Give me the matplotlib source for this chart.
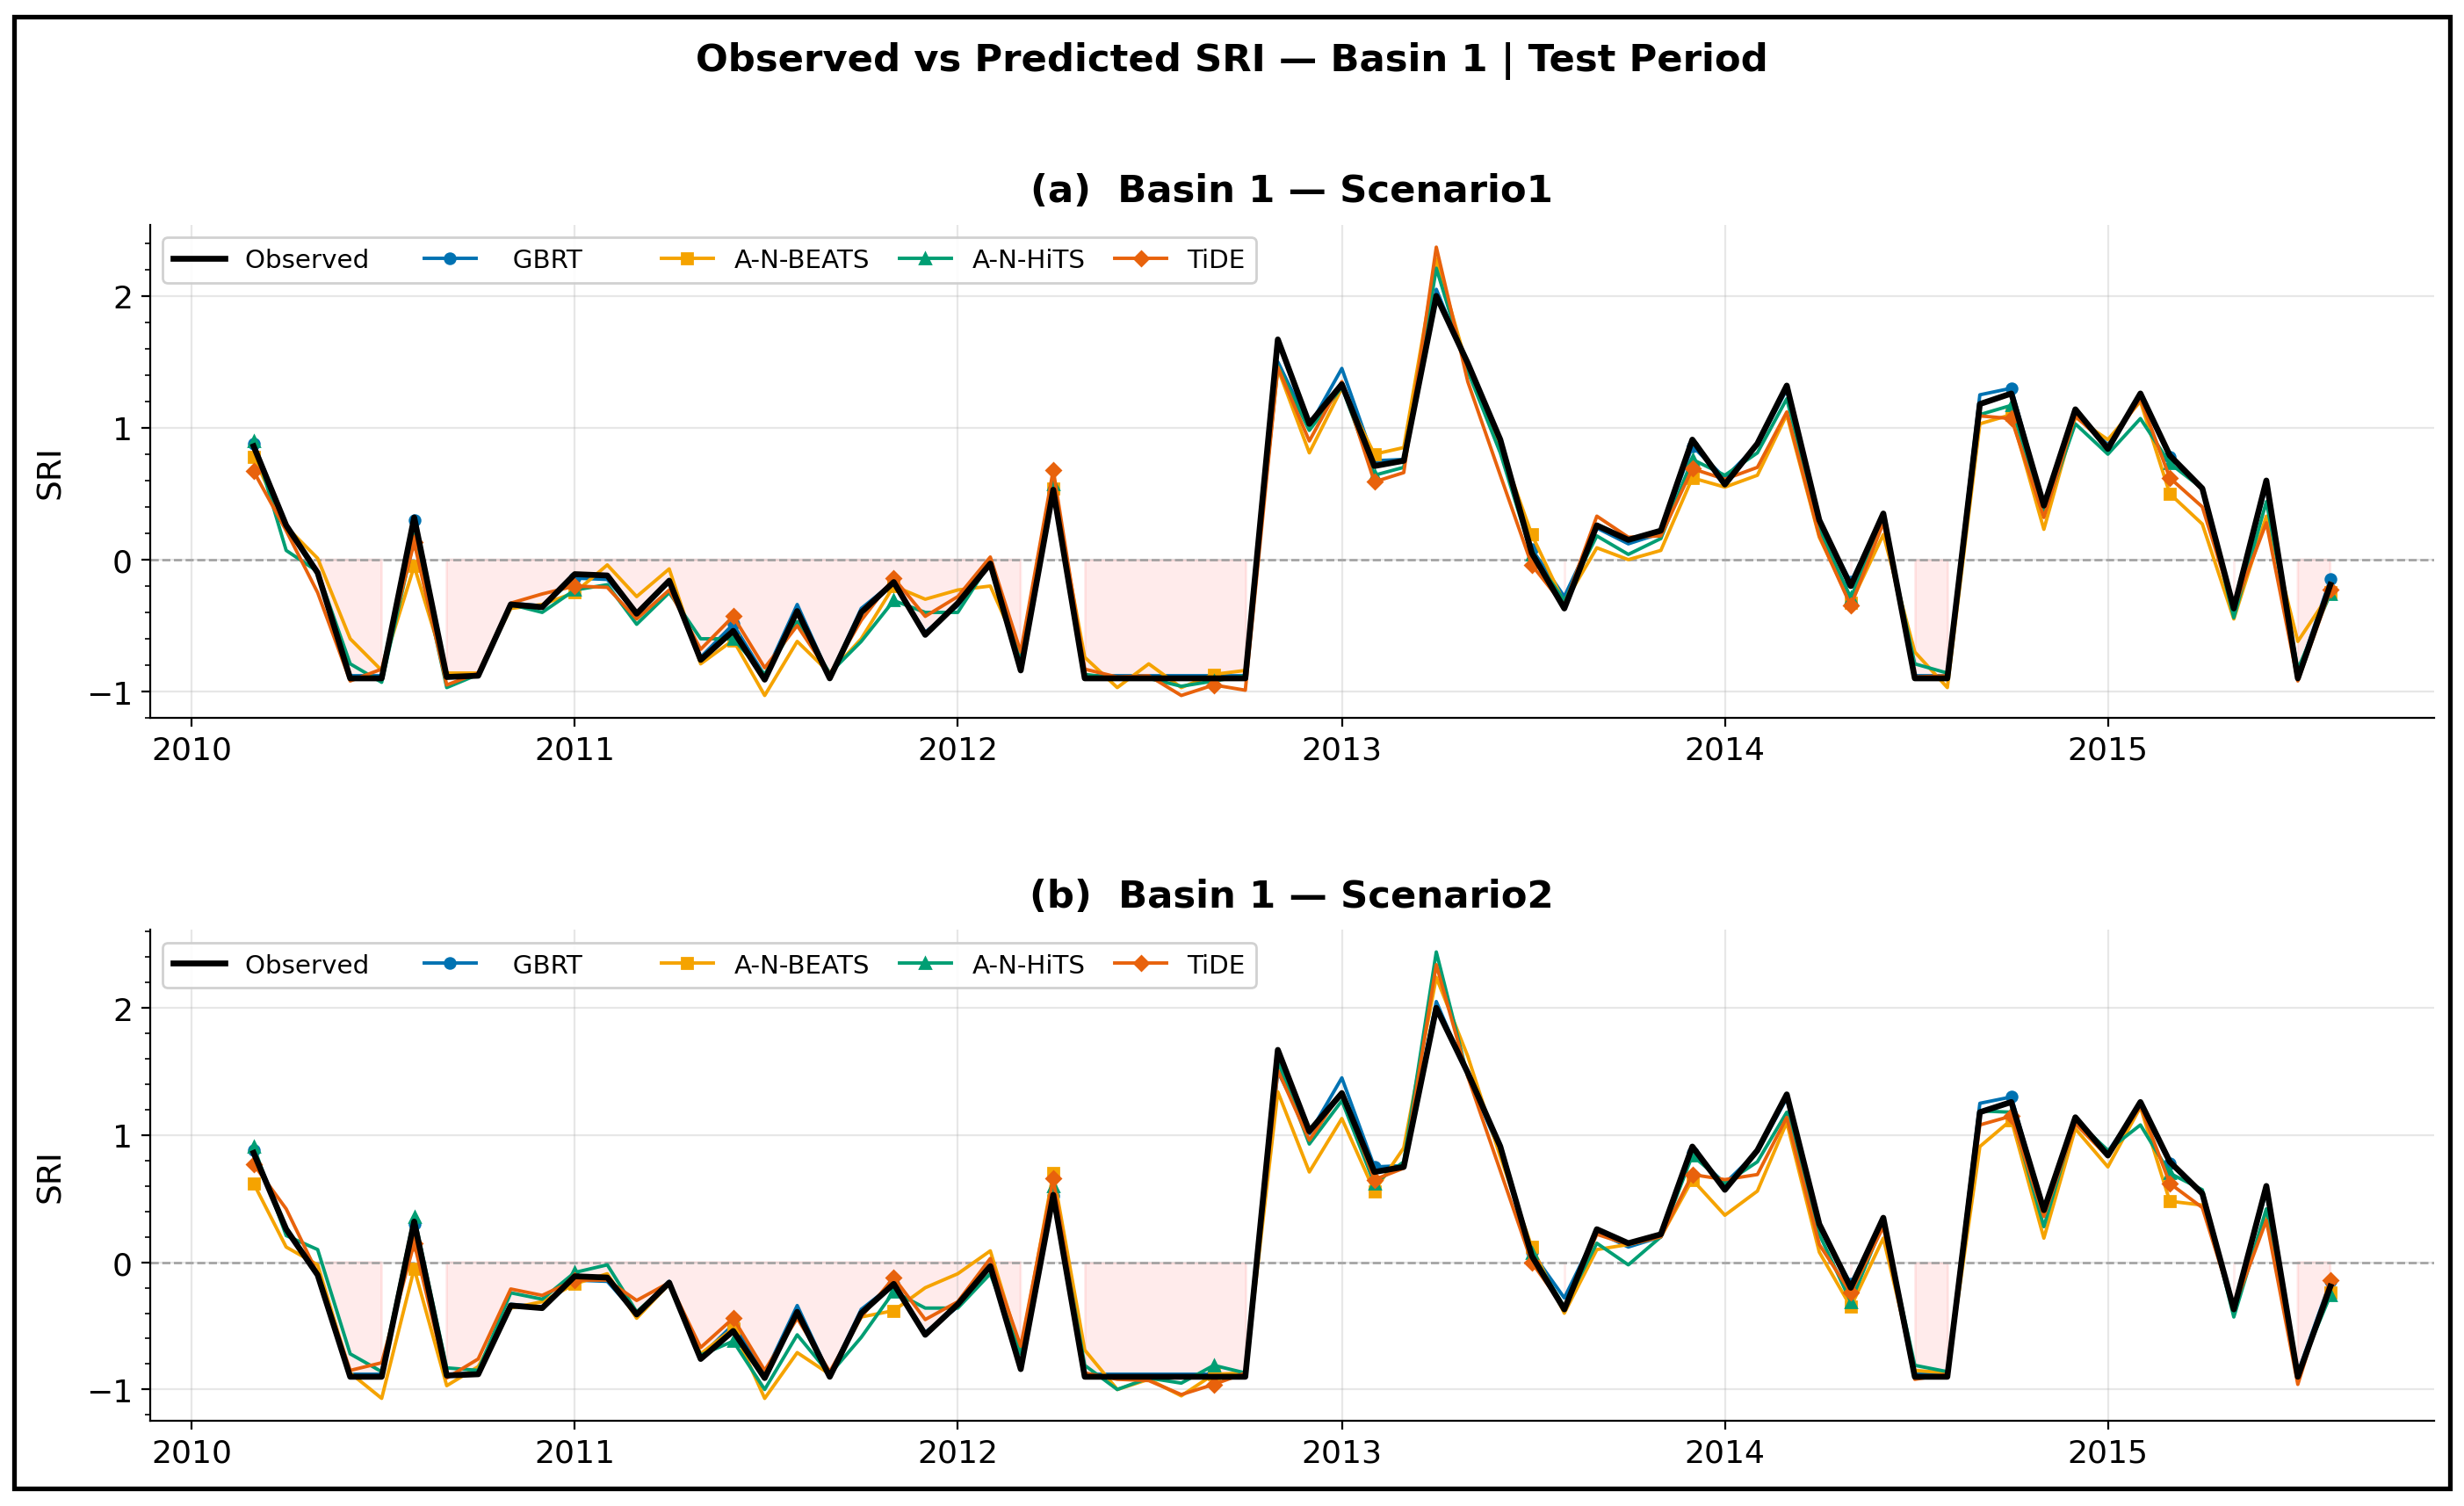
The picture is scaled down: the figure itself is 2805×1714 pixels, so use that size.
import numpy as np
import pandas as pd
import matplotlib
matplotlib.use("Agg")
import matplotlib.pyplot as plt
import matplotlib.dates as mdates
from matplotlib.ticker import AutoMinorLocator, MultipleLocator
from matplotlib.patches import Rectangle

# ---------------- data ----------------
dates = pd.date_range("2010-03-01", "2015-08-01", freq="MS")

observed = [0.86, 0.26, -0.10, -0.90, -0.90, 0.32, -0.89, -0.88, -0.34, -0.36,
            -0.11, -0.12, -0.41, -0.16, -0.76, -0.54, -0.91, -0.39, -0.90, -0.40,
            -0.17, -0.57, -0.33, -0.03, -0.84, 0.53, -0.90, -0.90, -0.90, -0.90,
            -0.90, -0.90, 1.67, 1.03, 1.33, 0.71, 0.75, 2.00, 1.49, 0.91,
            0.05, -0.37, 0.26, 0.15, 0.22, 0.91, 0.57, 0.88, 1.32, 0.30,
            -0.20, 0.35, -0.90, -0.90, 1.18, 1.26, 0.41, 1.14, 0.84, 1.26,
            0.79, 0.54, -0.37, 0.60, -0.90, -0.19]

gbrt = [0.88, 0.27, -0.10, -0.88, -0.88, 0.30, -0.88, -0.87, -0.33, -0.35,
        -0.14, -0.15, -0.41, -0.15, -0.74, -0.49, -0.88, -0.34, -0.89, -0.37,
        -0.17, -0.55, -0.35, -0.03, -0.82, 0.52, -0.88, -0.88, -0.88, -0.88,
        -0.88, -0.88, 1.50, 1.01, 1.45, 0.75, 0.76, 2.05, 1.47, 0.87,
        0.08, -0.28, 0.24, 0.12, 0.20, 0.86, 0.62, 0.87, 1.29, 0.28,
        -0.17, 0.34, -0.88, -0.88, 1.25, 1.30, 0.41, 1.13, 0.87, 1.24,
        0.78, 0.54, -0.36, 0.56, -0.87, -0.15]

# Scenario 1
nbeats_s1 = [0.78, 0.25, 0.01, -0.60, -0.84, -0.05, -0.86, -0.86, -0.37, -0.34,
             -0.25, -0.04, -0.28, -0.07, -0.79, -0.61, -1.03, -0.62, -0.86, -0.60,
             -0.20, -0.30, -0.23, -0.20, -0.72, 0.54, -0.74, -0.97, -0.79, -0.97,
             -0.87, -0.84, 1.45, 0.81, 1.30, 0.80, 0.85, 2.28, 1.45, 0.86,
             0.19, -0.33, 0.09, 0.00, 0.07, 0.62, 0.55, 0.64, 1.10, 0.17,
             -0.33, 0.19, -0.70, -0.97, 1.03, 1.10, 0.23, 1.08, 0.91, 1.20,
             0.50, 0.27, -0.45, 0.33, -0.62, -0.25]
nhits_s1 = [0.90, 0.07, -0.09, -0.79, -0.93, 0.16, -0.97, -0.87, -0.34, -0.40,
            -0.23, -0.19, -0.49, -0.25, -0.60, -0.60, -0.87, -0.47, -0.86, -0.62,
            -0.31, -0.40, -0.40, -0.02, -0.76, 0.57, -0.87, -0.90, -0.90, -0.96,
            -0.92, -0.88, 1.47, 0.98, 1.31, 0.64, 0.70, 2.21, 1.43, 0.81,
            0.04, -0.31, 0.18, 0.04, 0.16, 0.76, 0.64, 0.81, 1.22, 0.23,
            -0.29, 0.30, -0.79, -0.86, 1.10, 1.17, 0.35, 1.03, 0.80, 1.07,
            0.73, 0.54, -0.44, 0.44, -0.83, -0.26]
tide_s1 = [0.67, 0.22, -0.25, -0.92, -0.83, 0.13, -0.95, -0.86, -0.33, -0.26,
           -0.20, -0.21, -0.45, -0.23, -0.68, -0.43, -0.82, -0.50, -0.87, -0.46,
           -0.14, -0.43, -0.28, 0.02, -0.70, 0.68, -0.83, -0.89, -0.88, -1.03,
           -0.95, -0.99, 1.46, 0.90, 1.35, 0.59, 0.66, 2.37, 1.35, 0.64,
           -0.04, -0.35, 0.33, 0.17, 0.18, 0.69, 0.61, 0.70, 1.12, 0.18,
           -0.35, 0.28, -0.89, -0.88, 1.09, 1.07, 0.32, 1.09, 0.86, 1.22,
           0.62, 0.40, -0.37, 0.28, -0.92, -0.23]

# Scenario 2
nbeats_s2 = [0.62, 0.12, -0.02, -0.87, -1.07, -0.05, -0.97, -0.82, -0.36, -0.31,
             -0.17, -0.09, -0.44, -0.17, -0.72, -0.52, -1.07, -0.71, -0.88, -0.43,
             -0.38, -0.20, -0.09, 0.09, -0.70, 0.70, -0.69, -1.00, -0.92, -1.05,
             -0.88, -0.87, 1.34, 0.71, 1.13, 0.56, 0.90, 2.24, 1.62, 0.83,
             0.12, -0.40, 0.10, 0.14, 0.20, 0.65, 0.37, 0.56, 1.10, 0.08,
             -0.35, 0.19, -0.85, -0.87, 0.91, 1.12, 0.19, 1.05, 0.75, 1.22,
             0.48, 0.45, -0.36, 0.37, -0.88, -0.24]
nhits_s2 = [0.91, 0.21, 0.10, -0.72, -0.86, 0.36, -0.83, -0.85, -0.24, -0.29,
            -0.08, -0.02, -0.39, -0.16, -0.73, -0.62, -1.00, -0.57, -0.88, -0.59,
            -0.23, -0.36, -0.36, -0.09, -0.72, 0.60, -0.81, -1.00, -0.91, -0.95,
            -0.81, -0.87, 1.58, 0.93, 1.27, 0.62, 0.79, 2.44, 1.46, 0.93,
            0.07, -0.35, 0.15, -0.02, 0.20, 0.84, 0.62, 0.79, 1.18, 0.22,
            -0.31, 0.31, -0.81, -0.86, 1.19, 1.18, 0.28, 1.12, 0.88, 1.08,
            0.70, 0.57, -0.43, 0.42, -0.87, -0.26]
tide_s2 = [0.77, 0.42, -0.09, -0.85, -0.79, 0.15, -0.91, -0.76, -0.21, -0.26,
           -0.14, -0.14, -0.30, -0.16, -0.67, -0.44, -0.85, -0.44, -0.86, -0.43,
           -0.12, -0.45, -0.31, 0.03, -0.66, 0.66, -0.87, -0.92, -0.93, -1.04,
           -0.96, -0.87, 1.51, 0.96, 1.34, 0.65, 0.74, 2.34, 1.46, 0.72,
           0.00, -0.36, 0.22, 0.14, 0.20, 0.69, 0.65, 0.69, 1.14, 0.14,
           -0.24, 0.28, -0.92, -0.88, 1.08, 1.15, 0.36, 1.09, 0.83, 1.23,
           0.62, 0.43, -0.36, 0.33, -0.96, -0.14]

model_names = ["GBRT", "A-N-BEATS", "A-N-HiTS", "TiDE"]
legend_labels = ["  GBRT      ", "A-N-BEATS", "A-N-HiTS", "TiDE"]
model_colors = ["#0072B2", "#F5A300", "#009E73", "#E8620C"]
model_markers = ["o", "s", "^", "D"]

panels = [
    ("(a)  Basin 1 — Scenario1", [gbrt, nbeats_s1, nhits_s1, tide_s1]),
    ("(b)  Basin 1 — Scenario2", [gbrt, nbeats_s2, nhits_s2, tide_s2]),
]

# ---------------- figure ----------------
W, H, DPI = 2805, 1715, 200
fig = plt.figure(figsize=(W / DPI, H / DPI), dpi=DPI)

fig.text(0.5, 0.9595, "Observed vs Predicted SRI — Basin 1 | Test Period",
         ha="center", va="center", fontsize=15.6, fontweight="bold")

positions = [[0.0608, 0.523, 0.9271, 0.3273],
             [0.0608, 0.0566, 0.9271, 0.3259]]

obs = np.array(observed)
for pos, (title, series) in zip(positions, panels):
    ax = fig.add_axes(pos)
    ax.fill_between(dates, obs, 0, where=obs < 0, color="red", alpha=0.08,
                    zorder=1)
    ax.axhline(0, color="#999999", ls="--", lw=0.9, zorder=1.5)
    ax.plot(dates, obs, color="black", lw=2.4, label="Observed   ", zorder=6)
    for vals, lab, col, mk in zip(series, legend_labels, model_colors, model_markers):
        ax.plot(dates, vals, color=col, lw=1.4, marker=mk, ms=4.2,
                markevery=5, label=lab, zorder=3)
    ax.set_title(title, fontsize=15.6, fontweight="bold", pad=9.5)
    ax.set_ylabel("SRI", fontsize=13.5, labelpad=8)
    ax.grid(True, color="#b0b0b0", alpha=0.3, lw=0.8)
    ax.spines["top"].set_visible(False)
    ax.spines["right"].set_visible(False)
    ax.xaxis.set_major_locator(mdates.YearLocator())
    ax.xaxis.set_major_formatter(mdates.DateFormatter("%Y"))
    ax.yaxis.set_major_locator(MultipleLocator(1))
    ax.yaxis.set_minor_locator(AutoMinorLocator(5))
    ax.tick_params(axis="both", which="major", labelsize=13)
    ax.legend(loc="upper left", ncol=5, fontsize=10.6, columnspacing=1.15,
              framealpha=0.9)

fig.patches.append(Rectangle((0.0057, 0.0117), 0.9886, 0.9766,
                             transform=fig.transFigure, fill=False,
                             edgecolor="black", lw=1.9, zorder=10))

fig.savefig("out.png", dpi=DPI)
